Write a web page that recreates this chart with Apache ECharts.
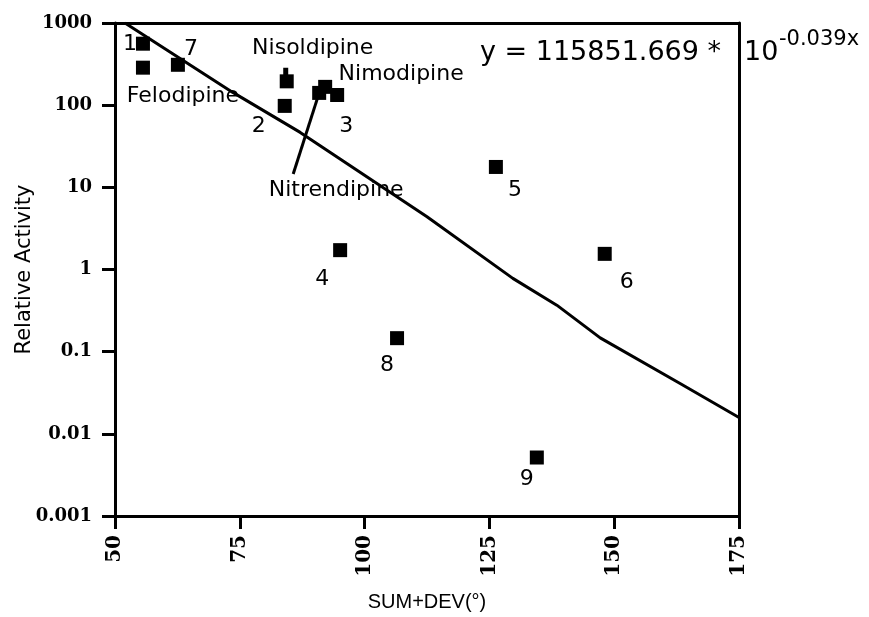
<!DOCTYPE html>
<html>
<head>
<meta charset="utf-8">
<script src="https://cdn.jsdelivr.net/npm/echarts@6/dist/echarts.min.js"></script>
<style>html,body{margin:0;padding:0;background:#fff}#c{width:869px;height:617px}</style>
</head>
<body>
<div id="c"></div>
<script>
// Data
const pointNames = ['1', 'Felodipine', '7', 'Nisoldipine', '2', 'Nitrendipine', 'Nimodipine', '3', '5', '4', '6', '8', '9'];
const pointX = [55.6, 55.6, 62.6, 84.4, 84.0, 90.9, 92.1, 94.5, 126.3, 95.1, 148.1, 106.5, 134.5];
const pointY = [560, 286, 310, 195, 98, 141, 167, 133, 17.7, 1.72, 1.55, 0.146, 0.00515];
const fitX = [52.0, 73.6, 87.1, 112.5, 129.7, 138.5, 147.2, 163.2, 175];
const fitY = [1000, 143, 46.6, 4.38, 0.78, 0.368, 0.147, 0.041, 0.0158];
const nitrendipineLeaderX = [85.7, 90.9];
const nitrendipineLeaderY = [14.5, 141];
const nisoldipineTickX = [84.2, 84.2];
const nisoldipineTickY = [286, 222];
const xTicks = [50, 75, 100, 125, 150, 175];
const yTickLabels = ['0.001', '0.01', '0.1', '1', '10', '100', '1000'];

// label offsets (pixels, relative to marker centre)
const labelOffsets = [[-13, 1], [40, 29], [13, -16], [26, -33], [-26, 20], [17, 97], [76, -13], [9, 31], [19, 23], [-18, 29], [22, 28], [-10, 27], [-10, 22]];

const chart = echarts.init(document.getElementById('c'), null, {renderer: 'canvas'});
const sans = 'DejaVu Sans';
const serif = 'DejaVu Serif';

const scatterData = pointNames.map((n, i) => ({
  name: n,
  value: [pointX[i], pointY[i]],
  label: {
    show: true, position: 'inside', formatter: n, offset: labelOffsets[i],
    color: '#000', fontFamily: sans, fontSize: 22
  }
}));

const option = {
  backgroundColor: '#fff',
  animation: false,
  grid: {left: 115, right: 130, top: 23, bottom: 98},
  xAxis: [{
    type: 'value', min: 50, max: 175, interval: 25, position: 'bottom',
    name: 'SUM+DEV(°)', nameLocation: 'middle', nameGap: 76, nameMoveOverlap: false,
    nameTextStyle: {fontFamily: 'Liberation Sans', fontSize: 20, color: '#000'},
    axisLine: {show: true, lineStyle: {color: '#000', width: 3}},
    axisTick: {show: true, length: 13, lineStyle: {color: '#000', width: 3}},
    axisLabel: {rotate: 90, margin: 19, color: '#000', fontFamily: serif, fontWeight: 'bold', fontSize: 20,
      formatter: v => xTicks.indexOf(v) >= 0 ? String(v) : ''},
    splitLine: {show: false}
  }, {
    type: 'value', min: 50, max: 175, position: 'top',
    axisLine: {show: true, lineStyle: {color: '#000', width: 3}},
    axisTick: {show: false}, axisLabel: {show: false}, splitLine: {show: false}
  }],
  yAxis: [{
    type: 'log', logBase: 10, min: 0.001, max: 1000, position: 'left',
    name: 'Relative Activity', nameLocation: 'middle', nameGap: 80, nameMoveOverlap: false,
    nameTextStyle: {fontFamily: sans, fontSize: 21, color: '#000'},
    axisLine: {show: true, lineStyle: {color: '#000', width: 3}},
    axisTick: {show: true, length: 13, lineStyle: {color: '#000', width: 3}},
    axisLabel: {margin: 23, color: '#000', fontFamily: serif, fontWeight: 'bold', fontSize: 18,
      formatter: v => yTickLabels[Math.round(Math.log10(v)) + 3]},
    splitLine: {show: false}
  }, {
    type: 'log', logBase: 10, min: 0.001, max: 1000, position: 'right',
    axisLine: {show: true, lineStyle: {color: '#000', width: 3}},
    axisTick: {show: false}, axisLabel: {show: false}, splitLine: {show: false}
  }],
  series: [{
    type: 'line', data: fitX.map((x, i) => [x, fitY[i]]), symbol: 'none', smooth: false,
    lineStyle: {color: '#000', width: 3}, z: 2
  }, {
    type: 'line', data: nitrendipineLeaderX.map((x, i) => [x, nitrendipineLeaderY[i]]), symbol: 'none',
    lineStyle: {color: '#000', width: 3}, z: 2
  }, {
    type: 'line', data: nisoldipineTickX.map((x, i) => [x, nisoldipineTickY[i]]), symbol: 'none',
    lineStyle: {color: '#000', width: 5}, z: 2
  }, {
    type: 'scatter', symbol: 'rect', symbolSize: 14, itemStyle: {color: '#000', opacity: 1},
    data: scatterData, z: 3
  }],
  graphic: [{
    type: 'text', left: 480, top: 39,
    style: {text: 'y = 115851.669 *', fontFamily: sans, fontSize: 27, fill: '#000'}
  }, {
    type: 'text', left: 744, top: 39,
    style: {text: '10', fontFamily: sans, fontSize: 27, fill: '#000'}
  }, {
    type: 'text', left: 779, top: 29,
    style: {text: '-0.039x', fontFamily: sans, fontSize: 21, fill: '#000'}
  }]
};
chart.setOption(option);
</script>
</body>
</html>
